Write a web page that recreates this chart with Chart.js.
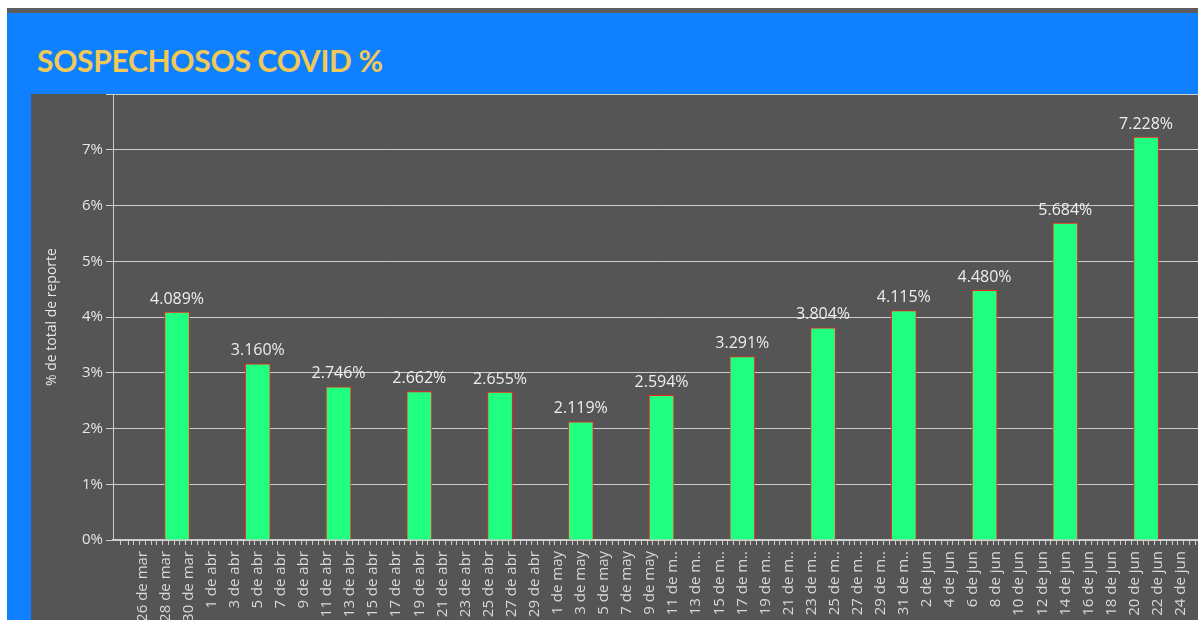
<!DOCTYPE html>
<html lang="es">
<head>
<meta charset="utf-8">
<title>Sospechosos COVID %</title>
<script src="https://cdn.jsdelivr.net/npm/chart.js@4.4.1/dist/chart.umd.min.js"></script>
<style>
    html, body { margin: 0; padding: 0; width: 1198px; height: 620px; overflow: hidden; background: #ffffff; }
    .strip { position: absolute; left: 7px; top: 8px; right: 0; height: 5px; background: #5d5d5d; }
    .panel { position: absolute; left: 7px; top: 13px; right: 0; bottom: 0; background: #0f80ff; }
    .dark { position: absolute; left: 31px; top: 94px; right: 0; bottom: 0; background: #555555; }
    h1 {
        position: absolute; left: 37px; top: 42px; margin: 0;
        font: 700 30px Lato, "Open Sans", sans-serif; color: #f0c956; letter-spacing: -0.3px;
    }
    .chart-box { position: absolute; left: 31px; top: 82px; width: 1191px; height: 592px; }
</style>
</head>
<body>
<div class="strip"></div>
<div class="panel"></div>
<div class="dark"></div>
<h1>SOSPECHOSOS COVID %</h1>
<div class="chart-box"><canvas id="barChart"></canvas></div>
<script>
// --- datos (semanas) ---
const weekDates = ['2020-03-29', '2020-04-05', '2020-04-12', '2020-04-19', '2020-04-26', '2020-05-03',
    '2020-05-10', '2020-05-17', '2020-05-24', '2020-05-31', '2020-06-07', '2020-06-14', '2020-06-21'];
const sospechososPct = [4.089, 3.160, 2.746, 2.662, 2.655, 2.119, 2.594, 3.291, 3.804, 4.115, 4.480, 5.684, 7.228];
const yTicks = [0, 1, 2, 3, 4, 5, 6, 7];
const monthNames = ['ene', 'feb', 'mar', 'abr', 'may', 'jun', 'jul'];

// eje x en días desde el 26 de marzo
const baseDay = Date.UTC(2020, 2, 26);
const DAY = 24 * 3600 * 1000;
function dayIndex(iso) {
    const [y, m, d] = iso.split('-').map(Number);
    return Math.round((Date.UTC(y, m - 1, d) - baseDay) / DAY);
}
function dayLabel(v) {
    const r = Math.round(v);
    if (Math.abs(v - r) > 1e-6 || r < 0 || r % 2 !== 0) return '';
    const dt = new Date(baseDay + r * DAY);
    const d = dt.getUTCDate();
    const mon = monthNames[dt.getUTCMonth()];
    // Tableau recorta "may" con días de dos cifras
    if (mon === 'may' && d >= 10) return `${d} de m..`;
    return `${d} de ${mon}`;
}

const points = weekDates.map((iso, i) => ({ x: dayIndex(iso), y: sospechososPct[i] }));

const lineColor = '#cfcfcf';
const textColor = '#e6e6e6';

// etiquetas de valor encima de cada barra
const valueLabels = {
    id: 'valueLabels',
    afterDatasetsDraw(chart) {
        const ctx = chart.ctx;
        const meta = chart.getDatasetMeta(0);
        ctx.save();
        ctx.font = '16px "Open Sans"';
        ctx.fillStyle = '#eeeeee';
        ctx.textAlign = 'center';
        ctx.textBaseline = 'bottom';
        meta.data.forEach((bar, i) => {
            ctx.fillText(sospechososPct[i].toFixed(3) + '%', bar.x, bar.y - 5);
        });
        ctx.restore();
    }
};

Chart.defaults.font.family = '"Open Sans", sans-serif';
Chart.defaults.color = textColor;

new Chart(document.getElementById('barChart').getContext('2d'), {
    type: 'bar',
    data: {
        datasets: [{
            label: '% de total de reporte',
            data: points,
            backgroundColor: '#20ff80',
            borderColor: '#ff1f1f',
            borderWidth: 1,
            barThickness: 25
        }]
    },
    options: {
        responsive: true,
        maintainAspectRatio: false,
        animation: false,
        layout: { padding: { top: 1, right: 0, left: 0, bottom: 0 } },
        plugins: { legend: { display: false }, tooltip: { enabled: false } },
        scales: {
            x: {
                type: 'linear',
                min: -2.3,
                max: 91.5,
                afterFit: axis => { axis.height = 134; },
                grid: { drawOnChartArea: false, drawTicks: true, tickLength: 5, color: lineColor },
                border: { color: lineColor, width: 2 },
                ticks: {
                    stepSize: 0.5,
                    autoSkip: false,
                    minRotation: 90,
                    maxRotation: 90,
                    padding: 6,
                    font: { size: 15 },
                    color: '#d9d9d9',
                    callback: v => dayLabel(v)
                }
            },
            y: {
                min: 0,
                max: 8,
                afterFit: axis => { axis.width = 82; },
                grid: { color: lineColor, tickLength: 7 },
                border: { color: lineColor, width: 1 },
                ticks: {
                    stepSize: 1,
                    padding: 3,
                    font: { size: 15 },
                    color: textColor,
                    callback: v => yTicks.includes(v) ? v + '%' : ''
                },
                title: {
                    display: true,
                    text: '% de total de reporte',
                    color: textColor,
                    font: { size: 14 },
                    padding: { top: 13, bottom: 0 }
                }
            }
        }
    },
    plugins: [valueLabels]
});
</script>
</body>
</html>
